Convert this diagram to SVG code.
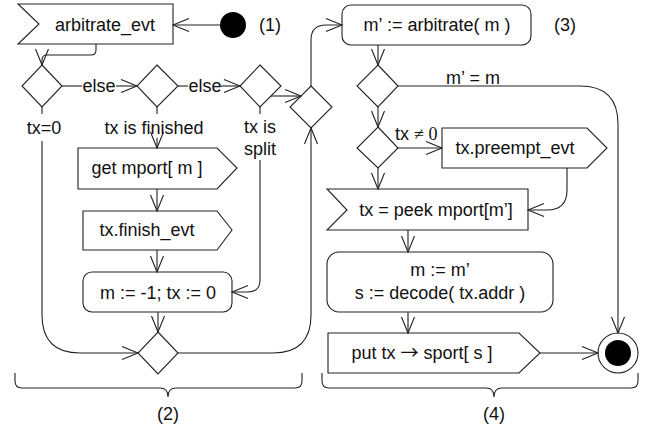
<svg xmlns="http://www.w3.org/2000/svg" width="654" height="430" viewBox="0 0 654 430">
  <style>
    .shape { fill: #fff; stroke: #222; stroke-width: 1.1; }
    .edge { fill: none; stroke: #222; stroke-width: 1.1; marker-end: url(#open); }
    .line { fill: none; stroke: #222; stroke-width: 1.1; }
    .brace { fill: none; stroke: #222; stroke-width: 1.1; }
    text { font-family: "Liberation Sans", Arial, sans-serif; font-size: 18px; fill: #111; }
    .c { text-anchor: middle; }
    .serif { font-family: "Liberation Serif", "Times New Roman", serif; }
    .sym { font-family: "Noto Sans CJK SC", "DejaVu Sans", sans-serif; }
  </style>
  <defs>
    <marker id="open" markerUnits="userSpaceOnUse" markerWidth="20" markerHeight="16" viewBox="-18 -8 20 16" refX="0" refY="0" orient="auto" overflow="visible">
      <path d="M-16,-6.5 L0,0 L-16,6.5" fill="none" stroke="#222" stroke-width="1.1"/>
    </marker>
  </defs>

  <!-- section (1): wait for the arbitration event -->
  <g id="start">
    <circle cx="233" cy="25" r="13" fill="#000"/>
    <text x="270" y="31" class="c">(1)</text>
  </g>
  <g id="arbitrate_evt">
    <polygon class="shape" points="18,4 173,4 173,44 18,44 39,24"/>
    <text x="105" y="31" class="c">arbitrate_evt</text>
  </g>

  <!-- section (2): decisions on the current transfer -->
  <g id="d_tx0"><polygon class="shape" points="42,65 62,86 42,107 22,86"/></g>
  <g id="d_finished"><polygon class="shape" points="157,65 178,86 157,107 137,86"/></g>
  <g id="d_split"><polygon class="shape" points="260,65 281,86 260,107 240,86"/></g>
  <g id="d_join"><polygon class="shape" points="311,86 332,107 311,128 290,107"/></g>
  <g id="get_mport">
    <polygon class="shape" points="78,148 217,148 237,168 217,189 78,189"/>
    <text x="147" y="174" class="c">get mport[ m ]</text>
  </g>
  <g id="finish_evt">
    <polygon class="shape" points="83,211 217,211 232,230 217,250 83,250"/>
    <text x="147" y="236" class="c">tx.finish_evt</text>
  </g>
  <g id="reset">
    <rect class="shape" x="83" y="272" width="149" height="40" rx="9"/>
    <text x="158" y="299" class="c">m := -1; tx := 0</text>
  </g>
  <g id="d_merge"><polygon class="shape" points="158,332 178,353 158,374 138,353"/></g>

  <!-- section (3): arbitration -->
  <g id="arbitrate">
    <rect class="shape" x="342" y="5" width="189" height="40" rx="9"/>
    <text x="437" y="31" class="c">m’ := arbitrate( m )</text>
    <text x="565" y="31" class="c">(3)</text>
  </g>
  <g id="d_same"><polygon class="shape" points="378,65 398,86 378,107 357,86"/></g>
  <g id="d_busy"><polygon class="shape" points="378,127 398,148 378,168 357,148"/></g>
  <g id="preempt_evt">
    <polygon class="shape" points="442,128 587,128 607,148 587,168 442,168"/>
    <text x="515" y="154" class="c">tx.preempt_evt</text>
  </g>

  <!-- section (4): fetch and route the transfer -->
  <g id="peek">
    <polygon class="shape" points="327,189 528,189 528,230 327,230 347,210"/>
    <text x="436" y="216" class="c">tx = peek mport[m’]</text>
  </g>
  <g id="decode">
    <rect class="shape" x="327" y="252" width="226" height="60" rx="12"/>
    <text x="440" y="276" class="c">m := m’</text>
    <text x="440" y="299" class="c">s := decode( tx.addr )</text>
  </g>
  <g id="put">
    <polygon class="shape" points="328,333 519,333 540,353 519,373 328,373"/>
    <text x="422" y="359" class="c">put tx <tspan class="sym">→</tspan> sport[ s ]</text>
  </g>
  <g id="final">
    <circle cx="618" cy="353" r="20" fill="#fff" stroke="#222" stroke-width="1.1"/>
    <circle cx="618" cy="353" r="13" fill="#000"/>
  </g>

  <!-- connectors -->
  <g id="connectors">
    <path class="edge" d="M220,25 H173"/>
    <path class="edge" d="M96,44 V50 Q96,55 91,55 H47 Q42,55 42,60 V65"/>
    <!-- else branches -->
    <path class="line" d="M62,86 H82"/>
    <path class="edge" d="M116,86 H137"/>
    <text x="99" y="92" class="c">else</text>
    <path class="line" d="M178,86 H188"/>
    <path class="edge" d="M221,86 H240"/>
    <text x="205" y="92" class="c">else</text>
    <!-- tx=0 -->
    <path class="line" d="M42,107 V114"/>
    <text x="44" y="134" class="c">tx=0</text>
    <path class="edge" d="M42,141 V315 Q42,353 80,353 H138"/>
    <!-- tx is finished -->
    <path class="line" d="M157,107 V114"/>
    <text x="154" y="134" class="c">tx is finished</text>
    <path class="edge" d="M157,138 V148"/>
    <path class="edge" d="M157,189 V211"/>
    <path class="edge" d="M157,250 V272"/>
    <path class="edge" d="M158,312 V332"/>
    <!-- tx is split -->
    <path class="line" d="M260,107 V114"/>
    <text x="260" y="133" class="c">tx is</text>
    <text x="260" y="155" class="c">split</text>
    <path class="edge" d="M260,160 V280 Q260,292 248,292 H232"/>
    <!-- joins into arbitration -->
    <path class="edge" d="M178,353 H273 Q311,353 311,315 V128"/>
    <path class="edge" d="M271,96 H301"/>
    <path class="edge" d="M311,86 V40 Q311,25 326,25 H342"/>
    <path class="edge" d="M378,45 V65"/>
    <path class="edge" d="M398,86 H580 Q618,86 618,124 V333"/>
    <text x="473" y="84" class="c">m’ = m</text>
    <path class="edge" d="M378,107 V127"/>
    <path class="edge" d="M398,148 H442"/>
    <text x="395" y="140">tx <tspan class="serif">≠ 0</tspan></text>
    <path class="edge" d="M378,168 V189"/>
    <path class="edge" d="M567,168 V190 Q567,210 547,210 H528"/>
    <path class="edge" d="M408,230 V252"/>
    <path class="edge" d="M408,312 V333"/>
    <path class="edge" d="M540,353 H598"/>
  </g>

  <!-- braces marking sections (2) and (4) -->
  <g id="brace2">
    <path class="brace" d="M15,373 V381 Q15,388 22,388 H160 Q168,388 168,397 Q168,388 176,388 H295 Q302,388 302,381 V373"/>
    <text x="168" y="420" class="c">(2)</text>
  </g>
  <g id="brace4">
    <path class="brace" d="M322,373 V381 Q322,388 329,388 H486 Q494,388 494,397 Q494,388 502,388 H631 Q638,388 638,381 V373"/>
    <text x="494" y="420" class="c">(4)</text>
  </g>
</svg>
